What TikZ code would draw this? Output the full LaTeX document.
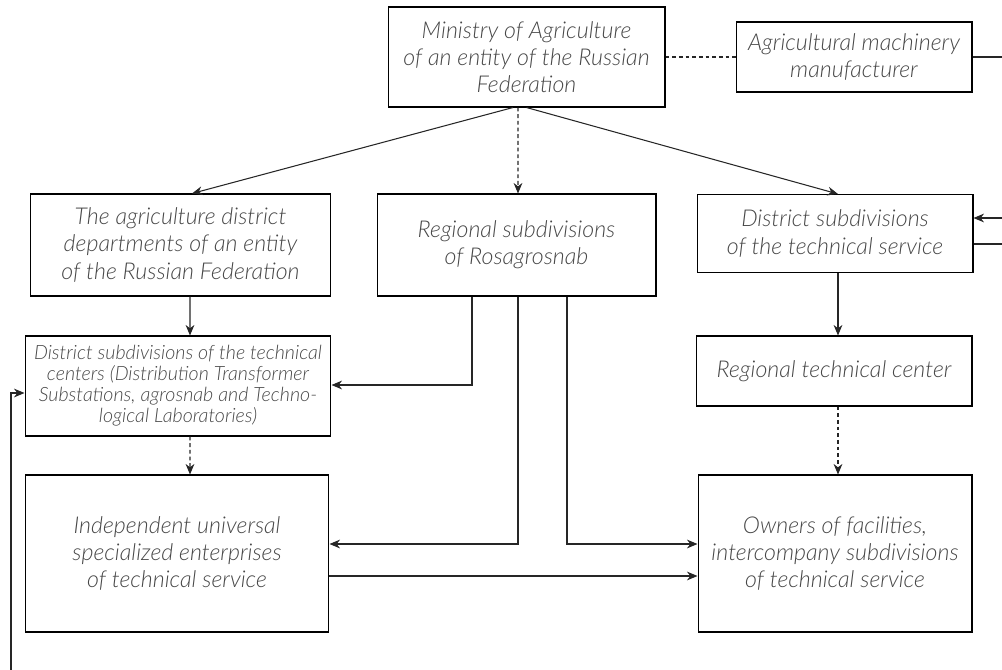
\documentclass[tikz,border=0pt]{standalone}
\usepackage{fontspec}
\setmainfont{Lato}[ItalicFont={Lato Light Italic}]
\usetikzlibrary{arrows.meta, calc}

\begin{document}
\begin{tikzpicture}[
    x = 0.02cm, y = -0.02cm,
    line width = 0.6pt,
    >= {Stealth[length=6pt, width=5pt]}
]
    \tikzstyle{box} = [draw, rectangle, align=center, text=black!72, font=\fontsize{13.2}{15.4}\selectfont\itshape, inner sep=0pt];
    \tikzstyle{smallbox} = [box, font=\fontsize{11.2}{11.9}\selectfont\itshape];
    \tikzstyle{link} = [->, black!85];
    \tikzstyle{weak} = [link, dash pattern=on 2.2pt off 1.6pt];

    \useasboundingbox (0, 0) rectangle (1002, 670);

    \node[box, minimum width=5.54cm, minimum height=2cm] (ministry) at (526.5, 57)
        {Ministry of Agriculture\\of an entity of the Russian\\Federation};
    \node[box, minimum width=4.72cm, minimum height=1.4cm] (maker) at (854, 57)
        {Agricultural machinery\\manufacturer};
    \node[box, minimum width=6.02cm, minimum height=2.04cm] (districtdep) at (180.5, 245)
        {The agriculture district\\departments of an entity\\of the Russian Federation};
    \node[box, minimum width=5.58cm, minimum height=2.04cm] (rosagro) at (516.5, 245)
        {Regional subdivisions\\of Rosagrosnab};
    \node[box, minimum width=5.52cm, minimum height=1.56cm] (servicesub) at (835, 233.5)
        {District subdivisions\\of the technical service};
    \node[box, minimum width=5.52cm, minimum height=1.4cm] (regcenter) at (834, 371)
        {Regional technical center};
    \node[smallbox, minimum width=6.12cm, minimum height=2cm] (centersub) at (178, 386)
        {District subdivisions of the technical\\centers (Distribution Transformer\\Substations, agrosnab and Techno-\\logical Laboratories)};
    \node[box, minimum width=6.08cm, minimum height=3.14cm] (independent) at (177, 553.5)
        {Independent universal\\specialized enterprises\\of technical service};
    \node[box, minimum width=5.48cm, minimum height=3.14cm] (owners) at (835, 553.5)
        {Owners of facilities,\\intercompany subdivisions\\of technical service};

    \coordinate (feedback) at (11, 670);
    \coordinate (outtop) at (1002, 57);
    \coordinate (inright) at (1002, 218);
    \coordinate (outright) at (1002, 244);

    \draw[black!85, dash pattern=on 2.2pt off 1.6pt] (ministry.east) -- (maker.west);
    \draw[black!85] (maker.east) -- (outtop);
    \draw[link] ([xshift=-0.27cm]ministry.south) -- ([xshift=0.23cm]districtdep.north);
    \draw[link] (ministry.south) -- ([xshift=0.06cm]servicesub.north);
    \draw[weak] ([xshift=-0.17cm]ministry.south) -- ([xshift=0.03cm]rosagro.north);

    \draw[link] ([xshift=0.19cm]districtdep.south) -- ([xshift=0.24cm]centersub.north);
    \draw[link] ([xshift=-0.89cm]rosagro.south) |- ([yshift=0.02cm]centersub.east);
    \draw[link] ([xshift=0.03cm]rosagro.south) |- ([yshift=0.19cm]independent.east);
    \draw[link] ([xshift=1.01cm]rosagro.south) |- ([yshift=0.19cm]owners.west);
    \draw[link] ([yshift=-0.45cm]independent.east) -- ([yshift=-0.45cm]owners.west);
    \draw[weak] ([xshift=0.24cm]centersub.south) -- ([xshift=0.26cm]independent.north);

    \draw[link] ([xshift=0.06cm]servicesub.south) -- ([xshift=0.08cm]regcenter.north);
    \draw[weak] ([xshift=0.08cm]regcenter.south) -- ([xshift=0.06cm]owners.north);
    \draw[link] (inright) -- (inright -| servicesub.east);
    \draw[black!85] (outright -| servicesub.east) -- (outright);

    \draw[link] (feedback) |- ([yshift=-0.14cm]centersub.west);
\end{tikzpicture}
\end{document}
